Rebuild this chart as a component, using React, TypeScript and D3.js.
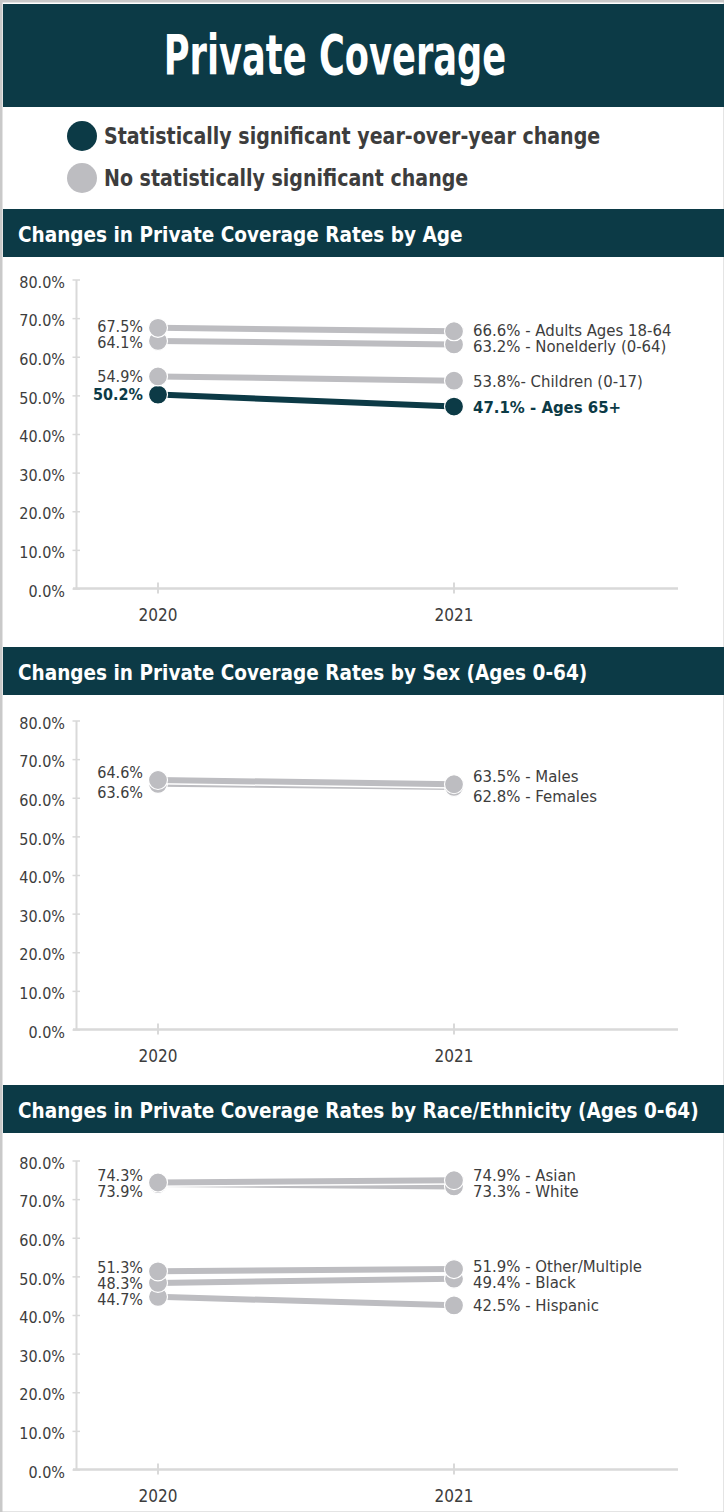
import { useEffect, useRef } from 'react';
import * as d3 from 'd3';

const years = ["2020", "2021"];
const yTickValues = [0, 10, 20, 30, 40, 50, 60, 70, 80];

const ageSuffix = [" - Adults Ages 18-64", " - Nonelderly (0-64)", "- Children (0-17)", " - Ages 65+"];
const age2020 = [67.5, 64.1, 54.9, 50.2];
const age2021 = [66.6, 63.2, 53.8, 47.1];
const ageSignificant = [false, false, false, true];

const sexSuffix = [" - Males", " - Females"];
const sex2020 = [64.6, 63.6];
const sex2021 = [63.5, 62.8];
const sexSignificant = [false, false];

const raceSuffix = [" - Asian", " - White", " - Other/Multiple", " - Black", " - Hispanic"];
const race2020 = [74.3, 73.9, 51.3, 48.3, 44.7];
const race2021 = [74.9, 73.3, 51.9, 49.4, 42.5];
const raceSignificant = [false, false, false, false, false];

const legendLabels = ["Statistically significant year-over-year change", "No statistically significant change"];

const DARK = "#0c3a46";
const GREY = "#bdbdc1";
const TEXT = "#3d3d3d";
const AXIS = "#d9d9d9";
const FONT = "'DejaVu Sans Condensed', 'DejaVu Sans', sans-serif";

// spread label positions so they don't collide
function spread(ys: number[], gap: number) {
  const idx = ys.map((_, i) => i).sort((a, b) => ys[a] - ys[b]);
  const out = ys.slice();
  for (let iter = 0; iter < 60; iter++) {
    let moved = false;
    for (let k = 1; k < idx.length; k++) {
      const a = idx[k - 1], b = idx[k];
      const d = out[b] - out[a];
      if (d < gap - 0.01) {
        const push = (gap - d) / 2;
        out[a] -= push;
        out[b] += push;
        moved = true;
      }
    }
    if (!moved) break;
  }
  return out;
}

export default function App() {
  const ref = useRef<SVGSVGElement>(null);

  useEffect(() => {
    document.body.style.margin = "0";
    if (!ref.current) return;
    const svg = d3.select(ref.current);
    svg.selectAll("*").remove();

    const W = 724, H = 1512;

    // text helper; sx squeezes the glyphs horizontally to mimic a condensed face
    const addText = (parent: any, tx: number, ty: number, str: string, size: number, opts: any = {}) => {
      return parent.append("text")
        .attr("transform", `translate(${tx},${ty}) scale(${opts.sx ?? 1},1)`)
        .attr("text-anchor", opts.anchor ?? "start")
        .attr("dy", opts.dy ?? null)
        .style("fill", opts.fill ?? TEXT)
        .style("font-family", FONT)
        .style("font-weight", opts.bold ? "bold" : "normal")
        .style("font-size", `${size}px`)
        .text(str);
    };

    // frame
    svg.append("rect")
      .attr("x", 1).attr("y", 1).attr("width", W).attr("height", H)
      .attr("fill", "#fff").attr("stroke", "#c9c9c9").attr("stroke-width", 3);

    // main header
    svg.append("rect").attr("x", 3).attr("y", 4).attr("width", W).attr("height", 103).attr("fill", DARK);
    addText(svg, 335, 74, "Private Coverage", 56, { anchor: "middle", fill: "#fff", bold: true, sx: 0.7 });

    // legend
    legendLabels.forEach((label, i) => {
      const cy = 136 + i * 42;
      svg.append("circle").attr("cx", 82).attr("cy", cy).attr("r", 15)
        .attr("fill", i === 0 ? DARK : GREY);
      addText(svg, 104, cy + 8, label, 23, { bold: true, sx: 0.92 });
    });

    const x = d3.scalePoint<string>().domain(years).range([158, 454]);
    const fmt = d3.format(".1f");
    const axisX = 76;

    const drawChart = (
      top: number,
      y0: number,
      title: string,
      v2020: number[],
      v2021: number[],
      suffix: string[],
      significant: boolean[],
      gap: number
    ) => {
      // section header
      svg.append("rect").attr("x", 3).attr("y", top).attr("width", W).attr("height", 48).attr("fill", DARK);
      addText(svg, 18, top + 33, title, 21, { fill: "#fff", bold: true, sx: 0.978 });

      const y = d3.scaleLinear().domain([0, 80]).range([y0, y0 - 309]);
      const g = svg.append("g");

      // y axis
      const yAxis = g.append("g")
        .attr("transform", `translate(${axisX},0)`)
        .call(d3.axisLeft(y).tickValues(yTickValues).tickSize(4).tickSizeOuter(0)
          .tickFormat(d => fmt(d as number) + "%"));
      yAxis.select(".domain").attr("stroke", AXIS).attr("stroke-width", 2);
      yAxis.selectAll(".tick line").attr("stroke", AXIS).attr("stroke-width", 1.5).attr("x1", 4).attr("x2", -3.5);
      yAxis.selectAll(".tick text")
        .attr("x", -11)
        .attr("y", 2.5)
        .style("fill", TEXT)
        .style("font-family", FONT)
        .style("font-size", "16px");

      // x axis
      g.append("line")
        .attr("x1", axisX - 3).attr("x2", 678).attr("y1", y0).attr("y2", y0)
        .attr("stroke", AXIS).attr("stroke-width", 2.5);
      years.forEach(yr => {
        g.append("line")
          .attr("x1", x(yr)!).attr("x2", x(yr)!).attr("y1", y0 - 6).attr("y2", y0 + 5)
          .attr("stroke", AXIS).attr("stroke-width", 2);
        addText(g, x(yr)!, y0 + 32, yr, 17, { anchor: "middle" });
      });

      // series drawn bottom-listed first so upper ones sit on top
      const order = d3.range(v2020.length).reverse();
      const line = d3.line();
      order.forEach(i => {
        const color = significant[i] ? DARK : GREY;
        const pts: [number, number][] = [
          [x(years[0])!, y(v2020[i])],
          [x(years[1])!, y(v2021[i])],
        ];
        g.append("path").attr("d", line(pts)).attr("fill", "none")
          .attr("stroke", "#fff").attr("stroke-width", 9);
        g.append("path").attr("d", line(pts)).attr("fill", "none")
          .attr("stroke", color).attr("stroke-width", 6);
        pts.forEach(p => {
          g.append("circle").attr("cx", p[0]).attr("cy", p[1]).attr("r", 9.5)
            .attr("fill", color).attr("stroke", "#fff").attr("stroke-width", 1.2);
        });
      });

      const left = spread(v2020.map(v => y(v)), gap);
      const right = spread(v2021.map(v => y(v)), gap);
      v2020.forEach((v, i) => {
        addText(g, 143, left[i], fmt(v) + "%", 16, {
          anchor: "end", dy: "0.36em", bold: significant[i], fill: significant[i] ? DARK : TEXT,
        });
      });
      v2021.forEach((v, i) => {
        addText(g, 473, right[i], fmt(v) + "%" + suffix[i], 16.6, {
          dy: "0.36em", bold: significant[i], fill: significant[i] ? DARK : TEXT,
        });
      });
    };

    drawChart(209, 588.5, "Changes in Private Coverage Rates by Age", age2020, age2021, ageSuffix, ageSignificant, 16);
    drawChart(647, 1029.5, "Changes in Private Coverage Rates by Sex (Ages 0-64)", sex2020, sex2021, sexSuffix, sexSignificant, 20);
    drawChart(1085, 1469.5, "Changes in Private Coverage Rates by Race/Ethnicity (Ages 0-64)", race2020, race2021, raceSuffix, raceSignificant, 16);
  }, []);

  return <svg ref={ref} width={724} height={1512} style={{ display: "block" }} />;
}
